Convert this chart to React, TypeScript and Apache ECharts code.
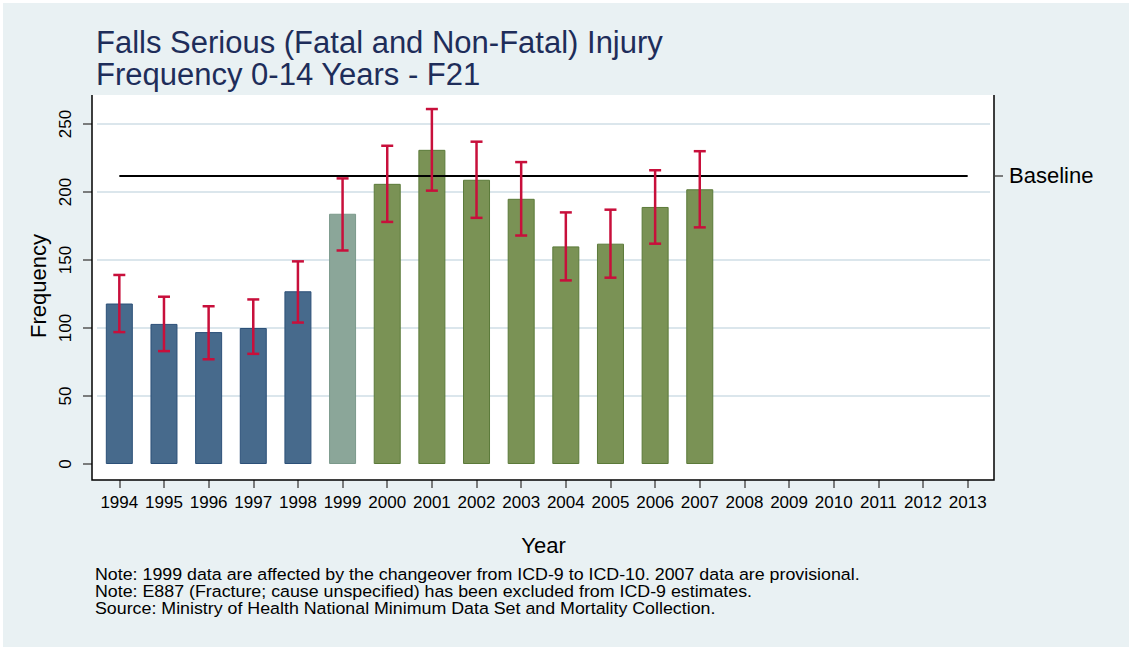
import React, { useEffect, useRef } from 'react';
import * as echarts from 'echarts';

const years = ['1994', '1995', '1996', '1997', '1998', '1999', '2000', '2001', '2002', '2003', '2004', '2005', '2006', '2007', '2008', '2009', '2010', '2011', '2012', '2013'];
const frequency = [118, 103, 97, 100, 127, 184, 206, 231, 209, 195, 160, 162, 189, 202];
const lowerCI = [97, 83, 77, 81, 104, 157, 178, 201, 181, 168, 135, 137, 162, 174];
const upperCI = [139, 123, 116, 121, 149, 210, 234, 261, 237, 222, 185, 187, 216, 230];
const codingPeriod = ['ICD-9', 'ICD-9', 'ICD-9', 'ICD-9', 'ICD-9', 'Changeover', 'ICD-10', 'ICD-10', 'ICD-10', 'ICD-10', 'ICD-10', 'ICD-10', 'ICD-10', 'ICD-10'];
const baselineValue = 212;
const yMin = 0;
const yMax = 250;
const yStep = 50;
const titleLines = ['Falls Serious (Fatal and Non-Fatal) Injury', 'Frequency 0-14 Years - F21'];
const notes = [
  'Note: 1999 data are affected by the changeover from ICD-9 to ICD-10. 2007 data are provisional.',
  'Note: E887 (Fracture; cause unspecified) has been excluded from ICD-9 estimates.',
  'Source: Ministry of Health National Minimum Data Set and Mortality Collection.',
];

const periodColors: Record<string, { fill: string; border: string }> = {
  'ICD-9': { fill: '#476a8c', border: '#2c5078' },
  Changeover: { fill: '#8ba699', border: '#7b998b' },
  'ICD-10': { fill: '#7a9255', border: '#5b7a39' },
};

const FONT = '"Liberation Sans", Arial, Helvetica, sans-serif';

export default function App() {
  const ref = useRef<HTMLDivElement>(null);

  useEffect(() => {
    if (!ref.current) return;
    const chart = echarts.init(ref.current, undefined, { renderer: 'svg' });
    const option: any = {
      animation: false,
      backgroundColor: '#ffffff',
      textStyle: { fontFamily: FONT },
      title: {
        text: titleLines.join('\n'),
        left: 96,
        top: 26,
        padding: 0,
        textStyle: { fontFamily: FONT, fontSize: 31, lineHeight: 32, fontWeight: 'normal', color: '#1e2d5a' },
      },
      graphic: [
        { type: 'rect', silent: true, z: -20, shape: { x: 3, y: 3, width: 1126, height: 644 }, style: { fill: '#e9f1f3' } },
        { type: 'rect', silent: true, z: -10, shape: { x: 92, y: 95, width: 902, height: 385 }, style: { fill: '#ffffff' } },
        {
          type: 'polyline', silent: true, z: 10,
          shape: { points: [[92, 95], [92, 480], [994, 480], [994, 95]] },
          style: { stroke: '#000000', lineWidth: 1.5, fill: null },
        },
        {
          type: 'text', silent: true, z: 10, x: 95, y: 566, scaleX: 1.08,
          style: { text: notes.join('\n'), fontFamily: FONT, fontSize: 16.5, lineHeight: 17, fill: '#000000' },
        },
      ],
      grid: { left: 97, right: 139, top: 124, bottom: 183 },
      xAxis: {
        type: 'category',
        data: years,
        offset: 16,
        axisLine: { show: false, onZero: false },
        axisTick: { show: true, length: 8, alignWithLabel: true, interval: 0, lineStyle: { color: '#555555', width: 1.5 } },
        axisLabel: { fontSize: 17, color: '#000000', margin: 14, interval: 0, fontFamily: FONT },
        name: 'Year',
        nameLocation: 'middle',
        nameGap: 54,
        nameTextStyle: { fontSize: 22, color: '#000000', fontFamily: FONT },
      },
      yAxis: [
        {
          type: 'value',
          min: yMin,
          max: yMax,
          interval: yStep,
          position: 'left',
          offset: 5,
          axisLine: { show: false },
          axisTick: { show: true, length: 9, lineStyle: { color: '#555555', width: 1.5 } },
          axisLabel: { rotate: 90, fontSize: 17, color: '#000000', margin: 18, fontFamily: FONT },
          splitLine: { show: true, showMinLine: false, lineStyle: { color: '#dbe6ec', width: 2 } },
          name: 'Frequency',
          nameLocation: 'middle',
          nameGap: 40,
          nameTextStyle: { fontSize: 22, color: '#000000', fontFamily: FONT, padding: [0, 0, 0, 16] },
        },
        {
          type: 'value',
          min: yMin,
          max: yMax,
          position: 'right',
          offset: 5,
          axisLine: { show: false },
          splitLine: { show: false },
          axisTick: { show: true, length: 8, customValues: [baselineValue], lineStyle: { color: '#555555', width: 1.5 } },
          axisLabel: {
            customValues: [baselineValue],
            formatter: () => 'Baseline',
            fontSize: 22,
            color: '#000000',
            margin: 14,
            fontFamily: FONT,
          },
        },
      ],
      series: [
        {
          type: 'bar',
          barWidth: 27,
          data: frequency.map((v, i) => ({
            value: v,
            itemStyle: {
              color: periodColors[codingPeriod[i]].fill,
              borderColor: periodColors[codingPeriod[i]].border,
              borderWidth: 1,
            },
          })),
          markLine: {
            silent: true,
            symbol: ['none', 'none'],
            label: { show: false },
            lineStyle: { color: '#000000', width: 2, type: 'solid' },
            data: [[{ coord: [years[0], baselineValue] }, { coord: [years[years.length - 1], baselineValue] }]],
          },
        },
        {
          type: 'custom',
          z: 5,
          data: lowerCI.map((lo, i) => [i, lo, upperCI[i]]),
          encode: { x: 0, y: [1, 2] },
          renderItem: (params: any, api: any) => {
            const x = api.value(0);
            const lo = api.coord([x, api.value(1)]);
            const hi = api.coord([x, api.value(2)]);
            const cap = 6;
            const style = { stroke: '#c80f3b', lineWidth: 2.5 };
            return {
              type: 'group',
              children: [
                { type: 'line', shape: { x1: lo[0], y1: lo[1], x2: hi[0], y2: hi[1] }, style },
                { type: 'line', shape: { x1: lo[0] - cap, y1: lo[1], x2: lo[0] + cap, y2: lo[1] }, style },
                { type: 'line', shape: { x1: hi[0] - cap, y1: hi[1], x2: hi[0] + cap, y2: hi[1] }, style },
              ],
            };
          },
        },
      ],
    };
    chart.setOption(option);
    return () => chart.dispose();
  }, []);

  return <div ref={ref} style={{ position: 'absolute', left: 0, top: 0, width: 1129, height: 647 }} />;
}
